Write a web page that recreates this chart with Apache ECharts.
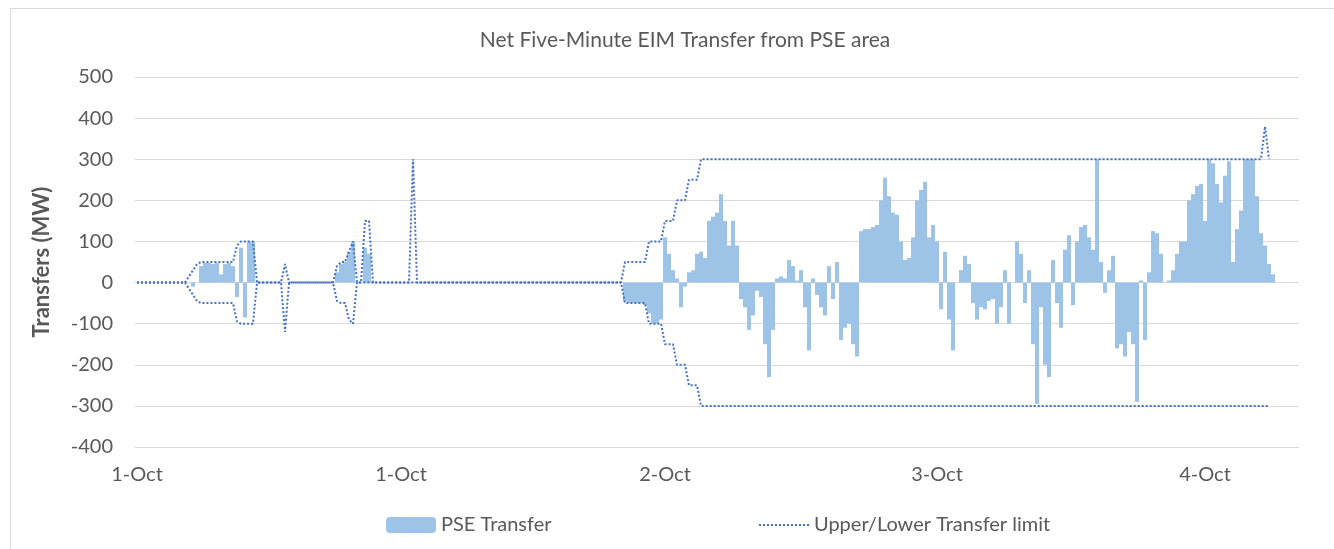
<!DOCTYPE html>
<html>
<head>
<meta charset="utf-8">
<script src="https://cdn.jsdelivr.net/npm/echarts@6/dist/echarts.min.js"></script>
<style>
  html, body { margin: 0; padding: 0; background: #fff; }
  #chart { width: 1334px; height: 549px; }
</style>
</head>
<body>
<div id="chart"></div>
<script>
// one slot ≈ 20 minutes of five-minute data
const transfer = [
  0, 0, 0, 0, 0, 0, 0, 0, 0, 0, 0, 0, 0, 0, -10, 0, 40, 48, 48, 45,
  48, 20, 45, 48, 40, -35, 85, -85, 100, 100, 0, 0, 0, 0, 0, 0, 0, 0, 0, 0,
  0, 0, 0, 0, 0, 0, 0, 0, 0, 0, 25, 45, 50, 75, 100, 0, 0, 85, 70, 0,
  0, 0, 0, 0, 0, 0, 0, 0, 0, 0, 0, 0, 0, 0, 0, 0, 0, 0, 0, 0,
  0, 0, 0, 0, 0, 0, 0, 0, 0, 0, 0, 0, 0, 0, 0, 0, 0, 0, 0, 0,
  0, 0, 0, 0, 0, 0, 0, 0, 0, 0, 0, 0, 0, 0, 0, 0, 0, 0, 0, 0,
  0, 0, -45, -50, -50, -50, -50, -55, -75, -100, -100, -90, 110, 70, 30, 10, -60, -10, 25, 30,
  70, 75, 60, 150, 160, 170, 215, 150, 90, 150, 90, -40, -60, -115, -80, -20, -35, -150, -230, -115,
  10, 15, 10, 55, 40, 5, 30, -60, -165, 10, -30, -60, -80, 40, -40, 50, -140, -110, -100, -150,
  -180, 125, 130, 130, 135, 140, 200, 255, 210, 170, 165, 100, 55, 60, 110, 200, 225, 245, 110, 140,
  100, -65, 75, -90, -165, 0, 30, 65, 45, -50, -90, -60, -65, -45, -40, -100, -60, 30, -100, 0,
  100, 70, -50, 30, -150, -295, -60, -200, -230, 55, -50, -110, 80, 115, -55, 100, 135, 140, 110, 80,
  300, 50, -25, 30, 65, -160, -150, -180, -120, -150, -290, 5, -140, 25, 125, 120, 70, 0, 5, 30,
  70, 100, 100, 200, 215, 235, 240, 150, 300, 290, 240, 195, 260, 295, 50, 130, 175, 300, 300, 300,
  210, 120, 90, 45, 20, null, null, null, null, null, null
]

const upperLimit = [
  0, 0, 0, 0, 0, 0, 0, 0, 0, 0, 0, 0, 0, 15, 30, 45, 50, 50, 50, 50,
  50, 50, 50, 50, 50, 90, 100, 100, 100, 100, 0, 0, 0, 0, 0, 0, 0, 45, 0, 0,
  0, 0, 0, 0, 0, 0, 0, 0, 0, 0, 40, 50, 50, 75, 100, 0, 0, 150, 150, 0,
  0, 0, 0, 0, 0, 0, 0, 0, 0, 300, 0, 0, 0, 0, 0, 0, 0, 0, 0, 0,
  0, 0, 0, 0, 0, 0, 0, 0, 0, 0, 0, 0, 0, 0, 0, 0, 0, 0, 0, 0,
  0, 0, 0, 0, 0, 0, 0, 0, 0, 0, 0, 0, 0, 0, 0, 0, 0, 0, 0, 0,
  0, 0, 50, 50, 50, 50, 50, 50, 100, 100, 100, 100, 150, 150, 150, 200, 200, 200, 250, 250,
  250, 300, 300, 300, 300, 300, 300, 300, 300, 300, 300, 300, 300, 300, 300, 300, 300, 300, 300, 300,
  300, 300, 300, 300, 300, 300, 300, 300, 300, 300, 300, 300, 300, 300, 300, 300, 300, 300, 300, 300,
  300, 300, 300, 300, 300, 300, 300, 300, 300, 300, 300, 300, 300, 300, 300, 300, 300, 300, 300, 300,
  300, 300, 300, 300, 300, 300, 300, 300, 300, 300, 300, 300, 300, 300, 300, 300, 300, 300, 300, 300,
  300, 300, 300, 300, 300, 300, 300, 300, 300, 300, 300, 300, 300, 300, 300, 300, 300, 300, 300, 300,
  300, 300, 300, 300, 300, 300, 300, 300, 300, 300, 300, 300, 300, 300, 300, 300, 300, 300, 300, 300,
  300, 300, 300, 300, 300, 300, 300, 300, 300, 300, 300, 300, 300, 300, 300, 300, 300, 300, 300, 300,
  300, 300, 380, 300, null, null, null, null, null, null, null
]

const lowerLimit = [
  0, 0, 0, 0, 0, 0, 0, 0, 0, 0, 0, 0, 0, -15, -30, -45, -50, -50, -50, -50,
  -50, -50, -50, -50, -50, -95, -100, -100, -100, -100, 0, 0, 0, 0, 0, 0, 0, -120, 0, 0,
  0, 0, 0, 0, 0, 0, 0, 0, 0, 0, -45, -50, -50, -90, -100, 0, 0, 0, 0, 0,
  0, 0, 0, 0, 0, 0, 0, 0, 0, 0, 0, 0, 0, 0, 0, 0, 0, 0, 0, 0,
  0, 0, 0, 0, 0, 0, 0, 0, 0, 0, 0, 0, 0, 0, 0, 0, 0, 0, 0, 0,
  0, 0, 0, 0, 0, 0, 0, 0, 0, 0, 0, 0, 0, 0, 0, 0, 0, 0, 0, 0,
  0, 0, -50, -50, -50, -50, -50, -50, -100, -100, -100, -100, -150, -150, -150, -200, -200, -200, -250, -250,
  -250, -300, -300, -300, -300, -300, -300, -300, -300, -300, -300, -300, -300, -300, -300, -300, -300, -300, -300, -300,
  -300, -300, -300, -300, -300, -300, -300, -300, -300, -300, -300, -300, -300, -300, -300, -300, -300, -300, -300, -300,
  -300, -300, -300, -300, -300, -300, -300, -300, -300, -300, -300, -300, -300, -300, -300, -300, -300, -300, -300, -300,
  -300, -300, -300, -300, -300, -300, -300, -300, -300, -300, -300, -300, -300, -300, -300, -300, -300, -300, -300, -300,
  -300, -300, -300, -300, -300, -300, -300, -300, -300, -300, -300, -300, -300, -300, -300, -300, -300, -300, -300, -300,
  -300, -300, -300, -300, -300, -300, -300, -300, -300, -300, -300, -300, -300, -300, -300, -300, -300, -300, -300, -300,
  -300, -300, -300, -300, -300, -300, -300, -300, -300, -300, -300, -300, -300, -300, -300, -300, -300, -300, -300, -300,
  -300, -300, -300, -300, null, null, null, null, null, null, null
]

// x-axis labels sit on these slots
const tickSlots = [0, 66, 132, 200, 267]
const tickLabels = ['1-Oct', '1-Oct', '2-Oct', '3-Oct', '4-Oct']

const slots = transfer.map((_, i) => String(i))

const font = 'Lato'
const textColor = '#595959'
const gridColor = '#d9d9d9'
const limitStyle = { color: '#4472c4', width: 2, type: [2, 2] }

const chart = echarts.init(document.getElementById('chart'))
chart.setOption({
  animation: false,
  textStyle: { fontFamily: font },
  title: {
    text: 'Net Five-Minute EIM Transfer from PSE area',
    left: 680,
    textAlign: 'center',
    top: 25,
    textStyle: { fontFamily: font, fontSize: 21, fontWeight: 'normal', color: textColor }
  },
  graphic: [{
    type: 'rect',
    silent: true,
    shape: { x: 10.5, y: 8.5, width: 1400, height: 700 },
    style: { fill: 'none', stroke: gridColor, lineWidth: 1 }
  }],
  legend: [
    {
      data: ['PSE Transfer'],
      left: 381,
      top: 510,
      itemWidth: 50,
      itemHeight: 16,
      textStyle: { fontFamily: font, fontSize: 20, color: textColor }
    },
    {
      data: ['Upper/Lower Transfer limit'],
      left: 753,
      top: 510,
      itemWidth: 50,
      itemHeight: 16,
      itemStyle: { opacity: 0 },
      lineStyle: limitStyle,
      textStyle: { fontFamily: font, fontSize: 20, color: textColor }
    }
  ],
  grid: { left: 135, right: 35, top: 77, bottom: 102 },
  xAxis: {
    type: 'category',
    data: slots,
    boundaryGap: true,
    axisLine: { show: false },
    axisTick: { show: false },
    splitLine: { show: false },
    axisLabel: {
      interval: (index) => tickSlots.includes(index),
      formatter: (value, index) => tickLabels[tickSlots.indexOf(index)] || '',
      margin: 18,
      fontFamily: font,
      fontSize: 20,
      color: textColor
    }
  },
  yAxis: {
    type: 'value',
    min: -400,
    max: 500,
    interval: 100,
    name: 'Transfers (MW)',
    nameLocation: 'middle',
    nameGap: 82,
    nameTextStyle: { fontFamily: font, fontSize: 22, fontWeight: 'bold', color: textColor },
    axisLine: { show: false },
    axisTick: { show: false },
    axisLabel: { margin: 22, fontFamily: font, fontSize: 20, color: textColor },
    splitLine: { lineStyle: { color: gridColor, width: 1 } }
  },
  series: [
    {
      name: 'PSE Transfer',
      type: 'bar',
      data: transfer,
      barCategoryGap: '0%',
      itemStyle: { color: '#9dc3e6' },
      z: 2
    },
    {
      name: 'Upper/Lower Transfer limit',
      type: 'line',
      data: upperLimit,
      symbol: 'none',
      color: '#4472c4',
      lineStyle: limitStyle,
      z: 3
    },
    {
      name: 'Upper/Lower Transfer limit',
      type: 'line',
      data: lowerLimit,
      symbol: 'none',
      color: '#4472c4',
      lineStyle: limitStyle,
      z: 3
    }
  ]
})
</script>
</body>
</html>
